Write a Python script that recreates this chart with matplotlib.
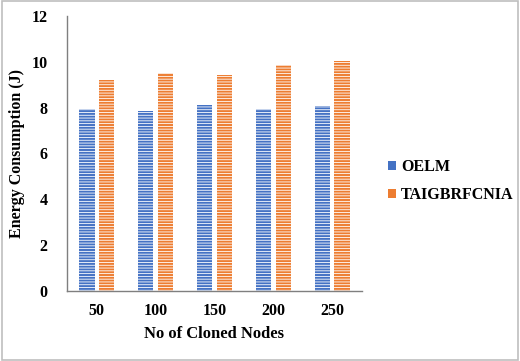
import numpy as np
import matplotlib.pyplot as plt
from matplotlib.patches import Rectangle, Patch

plt.rcParams['font.family'] = ['Liberation Serif', 'DejaVu Serif']
plt.rcParams['font.weight'] = 'bold'
plt.rcParams['axes.labelweight'] = 'bold'
plt.rcParams['hatch.linewidth'] = 0.6

# ---------- data ----------
nodes = ["50", "100", "150", "200", "250"]
oelm = [7.95, 7.85, 8.1, 7.95, 8.05]
taig = [9.2, 9.52, 9.42, 9.85, 10.05]
series_names = ["OELM", "TAIGBRFCNIA"]
colors = ["#4472C4", "#ED7D31"]

fig = plt.figure(figsize=(5.2, 3.61), dpi=100)
ax = fig.add_axes([0.129, 0.194, 0.567, 0.762])

x = np.arange(len(nodes))
w = 0.26
off = 0.165
for i, (vals, c) in enumerate(zip([oelm, taig], colors)):
    ax.bar(x + (off if i else -off), vals, width=w, color=c,
           edgecolor="white", hatch="------", linewidth=0)

ax.set_xticks(x)
ax.set_xticklabels(nodes)
ax.set_xlim(-0.5, len(nodes) - 0.5)
ax.set_ylim(0, 12)
ax.set_yticks(range(0, 13, 2))
ax.tick_params(axis="both", length=0, labelsize=11.5, pad=9)
ax.tick_params(axis="y", pad=14)
ax.set_ylabel("Energy Consumption (J)", fontsize=11.5, labelpad=5)
ax.set_xlabel("No of Cloned Nodes", fontsize=12, labelpad=5)

for s in ["top", "right"]:
    ax.spines[s].set_visible(False)
for s in ["left", "bottom"]:
    ax.spines[s].set_color("#7f7f7f")
    ax.spines[s].set_linewidth(1.0)

handles = [Patch(facecolor=c, edgecolor="none", label=n)
           for c, n in zip(colors, series_names)]
ax.legend(handles=handles, loc="center left", bbox_to_anchor=(1.04, 0.40),
          frameon=False, fontsize=11.5, handlelength=0.5, handleheight=0.5,
          handletextpad=0.3, labelspacing=0.75)

# outer chart frame
fig.patches.append(Rectangle((0.003, 0.003), 0.994, 0.994, transform=fig.transFigure,
                             fill=False, edgecolor="#bfbfbf", linewidth=1.2))

fig.savefig("out.png", dpi=100)
